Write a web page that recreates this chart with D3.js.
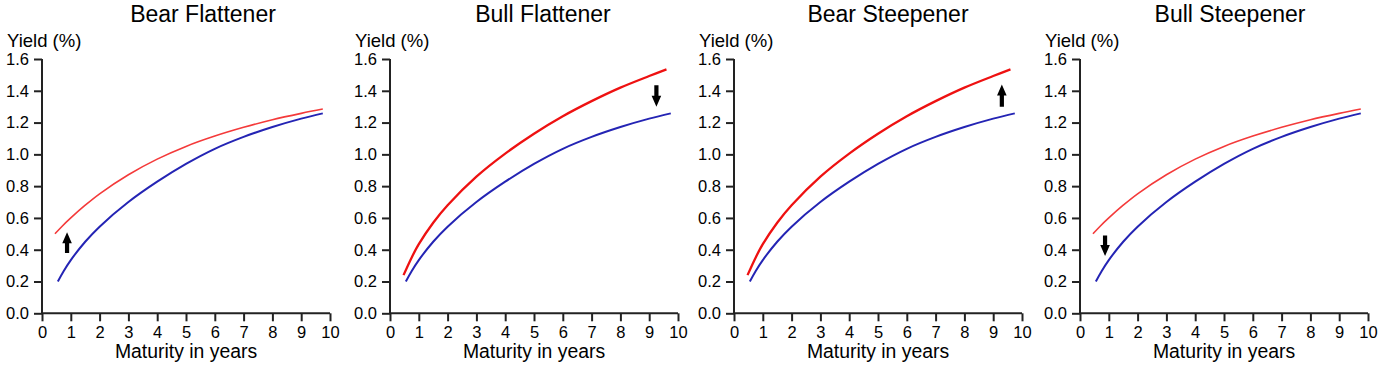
<!DOCTYPE html>
<html>
<head>
<meta charset="utf-8">
<script src="https://cdn.jsdelivr.net/npm/d3@7"></script>
<style>
  html, body { margin: 0; padding: 0; background: #fff; }
  svg { display: block; font-family: "Liberation Sans", Arial, sans-serif; }
</style>
</head>
<body>
<svg id="chart" width="1386" height="366"></svg>
<script>
// ---- data ----
const panelTitles = ["Bear Flattener", "Bull Flattener", "Bear Steepener", "Bull Steepener"];
const xTicks = [0, 1, 2, 3, 4, 5, 6, 7, 8, 9, 10];
const yTicks = [0.0, 0.2, 0.4, 0.6, 0.8, 1.0, 1.2, 1.4, 1.6];

// initial (blue) curve
const baseMaturity = [0.55, 0.75, 1, 1.5, 2, 3, 4, 5, 6, 7, 8, 9, 9.75];
const baseYield    = [0.20, 0.265, 0.335, 0.45, 0.545, 0.70, 0.828, 0.94, 1.035, 1.11, 1.172, 1.225, 1.258];

// shifted curve: short end moved
const shortMaturity = [0.45, 0.7, 1, 1.5, 2, 3, 4, 5, 6, 7, 8, 9, 9.75];
const shortYield    = [0.50, 0.548, 0.60, 0.68, 0.752, 0.872, 0.97, 1.05, 1.115, 1.17, 1.218, 1.258, 1.285];

// shifted curve: long end moved
const longMaturity = [0.47, 0.75, 1, 1.5, 2, 3, 4, 5, 6, 7, 8, 9, 9.6];
const longYield    = [0.24, 0.35, 0.435, 0.57, 0.68, 0.86, 1.005, 1.13, 1.24, 1.335, 1.42, 1.493, 1.535];

// which red curve each panel uses
const panelRedCurve = ["short", "long", "long", "short"];
// arrows: maturity, yield from, yield to
const arrowMaturity = [0.87, 9.25, 9.3, 0.87];
const arrowFrom     = [0.38, 1.435, 1.30, 0.49];
const arrowTo       = [0.51, 1.30, 1.44, 0.36];

// ---- layout ----
const axisLeft = [42, 390, 734, 1080];
const titleX   = [203, 543, 888, 1230];
const plotW = 288;
const yTop = 59, yBottom = 313.3;

const svg = d3.select("#chart");
const x = d3.scaleLinear().domain([0, 10]);
const y = d3.scaleLinear().domain([0, 1.6]).range([yBottom, yTop]);

const curves = {
  base:  baseMaturity.map((m, i) => [m, baseYield[i]]),
  short: shortMaturity.map((m, i) => [m, shortYield[i]]),
  long:  longMaturity.map((m, i) => [m, longYield[i]])
};

panelTitles.forEach((title, p) => {
  const x0 = axisLeft[p];
  const xs = x.copy().range([x0, x0 + plotW]);
  const g = svg.append("g");

  g.append("text")
    .attr("x", titleX[p]).attr("y", 22)
    .attr("text-anchor", "middle")
    .attr("font-size", 23).attr("fill", "#000")
    .text(title);

  g.append("text")
    .attr("x", x0 - 35).attr("y", 47)
    .attr("font-size", 18.5).attr("fill", "#000")
    .text("Yield (%)");

  g.append("text")
    .attr("x", x0 + plotW / 2).attr("y", 358)
    .attr("text-anchor", "middle")
    .attr("font-size", 19.4).attr("fill", "#000")
    .text("Maturity in years");

  const xAxis = d3.axisBottom(xs).tickValues(xTicks).tickFormat(d3.format("d"))
    .tickSize(8).tickPadding(5).tickSizeOuter(0);
  const yAxis = d3.axisLeft(y).tickValues(yTicks).tickFormat(d3.format(".1f"))
    .tickSize(8).tickPadding(5).tickSizeOuter(0);

  const gx = g.append("g").attr("transform", `translate(0,${yBottom})`).call(xAxis);
  const gy = g.append("g").attr("transform", `translate(${x0},0)`).call(yAxis);
  [gx, gy].forEach(a => {
    a.select(".domain").attr("stroke", "#222").attr("stroke-width", 2);
    a.selectAll(".tick line").attr("stroke", "#222").attr("stroke-width", 2);
    a.selectAll(".tick text").attr("font-size", 16.5).attr("fill", "#000")
      .attr("font-family", "Liberation Sans, Arial, sans-serif");
  });
  gx.select(".domain").attr("d", `M${x0},0H${x0 + plotW}`);
  gy.select(".domain").attr("d", `M0,${yBottom}V${yTop}`);

  const line = d3.line().x(d => xs(d[0])).y(d => y(d[1])).curve(d3.curveCatmullRom.alpha(0.5));

  g.append("path").datum(curves.base)
    .attr("fill", "none").attr("stroke", "#2424b4").attr("stroke-width", 2)
    .attr("d", line);

  const rc = panelRedCurve[p];
  g.append("path").datum(curves[rc])
    .attr("fill", "none")
    .attr("stroke", rc === "short" ? "#f43a3a" : "#ee1111")
    .attr("stroke-width", rc === "short" ? 1.6 : 2.3)
    .attr("d", line);

  const ax = xs(arrowMaturity[p]);
  const ya = y(arrowFrom[p]), yb = y(arrowTo[p]);
  const dir = yb < ya ? -1 : 1;
  const headLen = 11, headW = 4.8, shaftW = 2.1;
  const headBase = yb - dir * headLen;
  const path = d3.path();
  path.moveTo(ax - shaftW, ya);
  path.lineTo(ax - shaftW, headBase);
  path.lineTo(ax - headW, headBase);
  path.lineTo(ax, yb);
  path.lineTo(ax + headW, headBase);
  path.lineTo(ax + shaftW, headBase);
  path.lineTo(ax + shaftW, ya);
  path.closePath();
  g.append("path").attr("d", path.toString()).attr("fill", "#000");
});
</script>
</body>
</html>
